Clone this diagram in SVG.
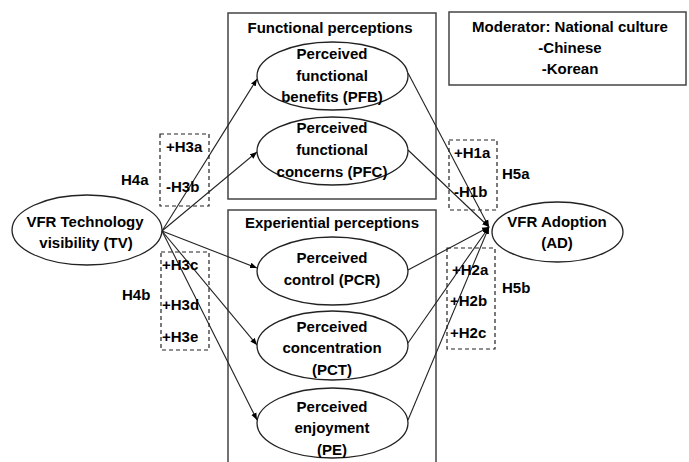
<svg xmlns="http://www.w3.org/2000/svg" width="689" height="462" viewBox="0 0 689 462">
<style>
text{font-family:"Liberation Sans",Arial,sans-serif;font-weight:bold;font-size:15px;fill:#000}
.c{text-anchor:middle}
.el{fill:#fff;stroke:#222;stroke-width:1.3}
.box{fill:none;stroke:#444;stroke-width:1.5}
.dash{fill:none;stroke:#222;stroke-width:1.2;stroke-dasharray:4,3}
.ln{stroke:#222;stroke-width:1.1;fill:none}
</style>
<defs>
<marker id="ah" viewBox="0 0 10 10" refX="10" refY="5" markerWidth="7" markerHeight="7" orient="auto" markerUnits="userSpaceOnUse">
<path d="M0,1 L10,5 L0,9 z" fill="#000"/>
</marker>
</defs>
<rect width="689" height="462" fill="#fff"/>

<g id="functional-group">
<rect class="box" x="228" y="13" width="208" height="186"/>
<text class="c" x="330" y="33">Functional perceptions</text>
</g>
<g id="experiential-group">
<rect class="box" x="228" y="210" width="208" height="262"/>
<text class="c" x="332" y="228">Experiential perceptions</text>
</g>
<g id="moderator">
<rect class="box" x="449" y="12" width="237" height="73"/>
<text class="c" x="570" y="32">Moderator:  National culture</text>
<text class="c" x="570" y="53">-Chinese</text>
<text class="c" x="570" y="74">-Korean</text>
</g>

<g id="connectors">
<line class="ln" x1="162" y1="231" x2="257" y2="79" marker-end="url(#ah)"/>
<line class="ln" x1="162" y1="231" x2="257" y2="152" marker-end="url(#ah)"/>
<line class="ln" x1="162" y1="231" x2="257" y2="268" marker-end="url(#ah)"/>
<line class="ln" x1="162" y1="231" x2="257" y2="345" marker-end="url(#ah)"/>
<line class="ln" x1="162" y1="231" x2="257" y2="420" marker-end="url(#ah)"/>
<line class="ln" x1="408" y1="73" x2="489" y2="227" marker-end="url(#ah)"/>
<line class="ln" x1="408" y1="150" x2="489" y2="227" marker-end="url(#ah)"/>
<line class="ln" x1="408" y1="270" x2="489" y2="227" marker-end="url(#ah)"/>
<line class="ln" x1="408" y1="343" x2="489" y2="227" marker-end="url(#ah)"/>
<line class="ln" x1="408" y1="420" x2="489" y2="227" marker-end="url(#ah)"/>
</g>

<g id="TV">
<ellipse class="el" cx="87" cy="230" rx="75" ry="35"/>
<text class="c" x="85" y="227">VFR Technology</text>
<text class="c" x="86" y="248">visibility (TV)</text>
</g>
<g id="PFB">
<ellipse class="el" cx="332.5" cy="76" rx="75.5" ry="34"/>
<text class="c" x="332" y="59">Perceived</text>
<text class="c" x="332" y="81">functional</text>
<text class="c" x="332" y="102">benefits (PFB)</text>
</g>
<g id="PFC">
<ellipse class="el" cx="332.5" cy="151" rx="75.5" ry="34"/>
<text class="c" x="332" y="133">Perceived</text>
<text class="c" x="332" y="155">functional</text>
<text class="c" x="332" y="177">concerns (PFC)</text>
</g>
<g id="PCR">
<ellipse class="el" cx="332.5" cy="271" rx="75.5" ry="34"/>
<text class="c" x="332" y="263">Perceived</text>
<text class="c" x="332" y="285">control  (PCR)</text>
</g>
<g id="PCT">
<ellipse class="el" cx="332.5" cy="345.5" rx="75.5" ry="34.5"/>
<text class="c" x="332" y="332">Perceived</text>
<text class="c" x="332" y="353">concentration</text>
<text class="c" x="332" y="375">(PCT)</text>
</g>
<g id="PE">
<ellipse class="el" cx="332.5" cy="423" rx="75.5" ry="35"/>
<text class="c" x="332" y="412">Perceived</text>
<text class="c" x="332" y="433">enjoyment</text>
<text class="c" x="332" y="455">(PE)</text>
</g>
<g id="AD">
<ellipse class="el" cx="557.5" cy="232" rx="65.5" ry="30"/>
<text class="c" x="557" y="227">VFR Adoption</text>
<text class="c" x="557" y="248">(AD)</text>
</g>

<g id="H3ab">
<rect class="dash" x="160" y="134" width="49" height="72"/>
<text x="166" y="152">+H3a</text>
<text x="166" y="192">-H3b</text>
<text x="121" y="185">H4a</text>
</g>
<g id="H3cde">
<rect class="dash" x="161" y="252" width="48" height="98"/>
<text x="162" y="270">+H3c</text>
<text x="162" y="310">+H3d</text>
<text x="162" y="342">+H3e</text>
<text x="122" y="300">H4b</text>
</g>
<g id="H1ab">
<rect class="dash" x="449" y="140" width="48" height="70"/>
<text x="454" y="158">+H1a</text>
<text x="454" y="197">-H1b</text>
<text x="502" y="179">H5a</text>
</g>
<g id="H2abc">
<rect class="dash" x="447" y="248" width="48" height="101"/>
<text x="452" y="275">+H2a</text>
<text x="450" y="306">+H2b</text>
<text x="450" y="338">+H2c</text>
<text x="502" y="293">H5b</text>
</g>
</svg>
